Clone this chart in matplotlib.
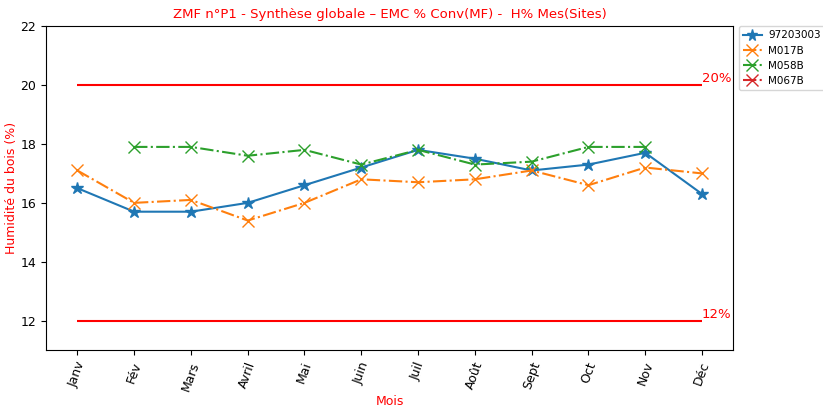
import numpy as np
import matplotlib
matplotlib.use('Agg')
import matplotlib.pyplot as plt

plt.rcParams['font.size'] = 9

mois = ['Janv', 'Fév', 'Mars', 'Avril', 'Mai', 'Juin', 'Juil', 'Août', 'Sept', 'Oct', 'Nov', 'Déc']

# Relevés par site (NaN = pas de mesure)
h_97203003 = [16.5, 15.7, 15.7, 16.0, 16.6, 17.2, 17.8, 17.5, 17.1, 17.3, 17.7, 16.3]
h_m017b = [17.1, 16.0, 16.1, 15.4, 16.0, 16.8, 16.7, 16.8, 17.1, 16.6, 17.2, 17.0]
h_m058b = [np.nan, 17.9, 17.9, 17.6, 17.8, 17.3, 17.8, 17.3, 17.4, 17.9, 17.9, np.nan]
h_m067b = [np.nan] * 12

seuil_haut = 20
seuil_bas = 12

fig = plt.figure(figsize=(8.23, 4.09), dpi=100)
ax = fig.add_axes([0.056, 0.144, 0.835, 0.792])

x = np.arange(len(mois))
ax.plot(x, h_97203003, marker='*', markersize=9, linestyle='-', label='97203003')
ax.plot(x, h_m017b, marker='x', markersize=9, linestyle='-.', label='M017B')
ax.plot(x, h_m058b, marker='x', markersize=9, linestyle='-.', label='M058B')
ax.plot(x, h_m067b, marker='x', markersize=9, linestyle='-.', label='M067B')

# Seuils
ax.hlines([seuil_haut, seuil_bas], 0, len(mois) - 1, colors='red')
ax.text(len(mois) - 1, seuil_haut, f'{seuil_haut}%', color='red', va='bottom', fontsize=9.5)
ax.text(len(mois) - 1, seuil_bas, f'{seuil_bas}%', color='red', va='bottom', fontsize=9.5)

ax.set_ylim(11, 22)
ax.set_xticks(x)
ax.set_xticklabels(mois, rotation=70)
ax.set_xlabel('Mois', color='red', labelpad=2)
ax.set_ylabel('Humidité du bois (%)', color='red', labelpad=2)
ax.set_title('ZMF n°P1 - Synthèse globale – EMC % Conv(MF) -  H% Mes(Sites)', color='red', fontsize=9.5)
ax.legend(loc='upper left', bbox_to_anchor=(1.008, 1.0), borderaxespad=0,
          fontsize=7.5, markerscale=0.9, handlelength=1.8, handletextpad=0.6)

fig.savefig('out.png', dpi=100)
